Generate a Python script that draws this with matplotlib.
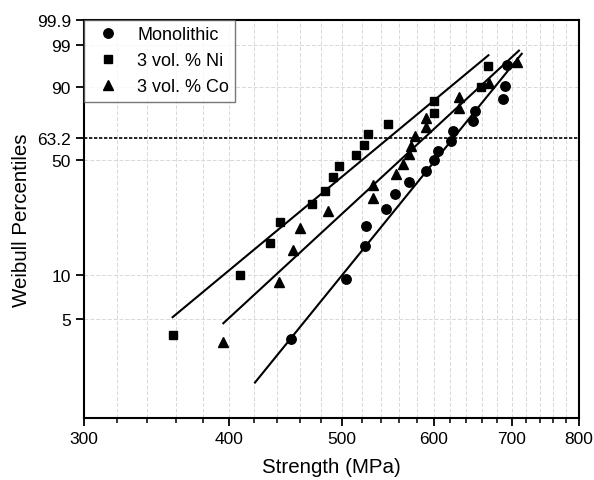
import numpy as np
import matplotlib
matplotlib.use("Agg")
import matplotlib.pyplot as plt
from matplotlib.ticker import FixedLocator, NullFormatter, FixedFormatter

plt.rcParams['font.family'] = ['Liberation Sans', 'DejaVu Sans']

# strength (MPa) and failure probability (%)
mono_x = [452, 503.8, 523.8, 524.5, 545.7, 555.3, 571.5, 590.4, 600.2, 605,
          620.4, 623.6, 648, 651.4, 688.5, 690.9, 693.2]
mono_f = [3.6, 9.4, 15.5, 20.9, 26.8, 32.6, 38.5, 44.1, 50.0, 55.4,
          61.4, 67.4, 73.0, 79.0, 84.9, 90.5, 96.4]

ni_x = [357.6, 408.7, 433.7, 442.8, 471.6, 483.6, 491.7, 497.5, 514.3, 522.8,
        526.3, 547.7, 600, 600, 658.8, 668.3]
ni_f = [3.84, 10.0, 16.2, 22.3, 28.6, 34.2, 40.8, 46.9, 53.1, 59.1,
        65.3, 71.7, 77.6, 83.7, 89.8, 96.1]

co_x = [395.4, 441.5, 454.2, 460.3, 486.2, 531.4, 532.1, 557.0, 564.8, 571.7,
        573.4, 578.0, 590.7, 591.3, 630.7, 631.3, 669.7, 707.8]
co_f = [3.46, 9.0, 14.6, 20.2, 25.8, 31.0, 36.9, 42.4, 47.8, 53.5,
        58.5, 64.1, 69.5, 75.2, 80.6, 85.9, 91.5, 96.8]

# Weibull fits: modulus m, characteristic strength s0, drawn range
mono_fit = (10.21, 624.0, 421.0, 714.2)
ni_fit = (6.87, 549.0, 357.6, 668.6)
co_fit = (7.64, 589.0, 395.4, 710.3)

y_ticks = [5, 10, 50, 63.2, 90, 99, 99.9]
y_labels = ["5", "10", "50", "63.2", "90", "99", "99.9"]
x_major = [300, 400, 500, 600, 700, 800]


def fwd(p):
    p = np.clip(np.asarray(p, dtype=float), 1e-6, 100 - 1e-6)
    return np.log(-np.log(1 - p / 100.0))


def inv(y):
    return 100.0 * (1 - np.exp(-np.exp(y)))


def fit_line(m, s0, x0, x1):
    xs = np.linspace(x0, x1, 50)
    return xs, inv(m * np.log(xs / s0))


fig = plt.figure(figsize=(5.94, 4.81), dpi=100)
ax = fig.add_axes([0.1414, 0.1289, 0.8333, 0.8274])

ax.set_xscale('log')
ax.set_yscale('function', functions=(fwd, inv))
ax.set_xlim(300, 800)
ax.set_ylim(1, 99.9)

# grid
for x_min in range(320, 800, 20):
    ax.axvline(x_min, color='#d8d8d8', lw=0.7, ls=(0, (4, 2)), zorder=0)
for yt in [5, 10, 50, 90, 99]:
    ax.axhline(yt, color='#d8d8d8', lw=0.7, ls=(0, (4, 2)), zorder=0)
ax.axhline(63.2, color='black', lw=1.2, ls=(0, (2, 1)), zorder=1)

for fit in (mono_fit, ni_fit, co_fit):
    lx, ly = fit_line(*fit)
    ax.plot(lx, ly, color='black', lw=1.5, zorder=2)

ax.plot(mono_x, mono_f, 'o', color='black', ms=6.8, ls='none', label='Monolithic', zorder=3)
ax.plot(ni_x, ni_f, 's', color='black', ms=6.0, ls='none', label='3 vol. % Ni', zorder=3)
ax.plot(co_x, co_f, '^', color='black', ms=7.2, ls='none', label='3 vol. % Co', zorder=3)

ax.xaxis.set_major_locator(FixedLocator(x_major))
ax.xaxis.set_major_formatter(FixedFormatter([str(v) for v in x_major]))
ax.xaxis.set_minor_locator(FixedLocator([v for v in range(320, 800, 20) if v % 100]))
ax.xaxis.set_minor_formatter(NullFormatter())
ax.yaxis.set_major_locator(FixedLocator(y_ticks))
ax.yaxis.set_major_formatter(FixedFormatter(y_labels))
ax.yaxis.set_minor_locator(FixedLocator([]))

ax.tick_params(axis='both', which='major', direction='out', length=6, width=1.3,
               labelsize=12.5, top=False, right=False)
ax.tick_params(axis='x', which='minor', direction='out', length=3.5, width=1.1, top=False)
for sp in ax.spines.values():
    sp.set_linewidth(1.5)

ax.set_xlabel("Strength (MPa)", fontsize=14.8, labelpad=8)
ax.set_ylabel("Weibull Percentiles", fontsize=14.8, labelpad=4)

leg = ax.legend(loc='upper left', borderaxespad=0, fontsize=13, frameon=True,
                fancybox=False, edgecolor='#555555', handletextpad=0.6,
                handlelength=2.0, borderpad=0.35, labelspacing=0.5)
leg.get_frame().set_linewidth(1.0)

plt.savefig("out.png", dpi=100)
